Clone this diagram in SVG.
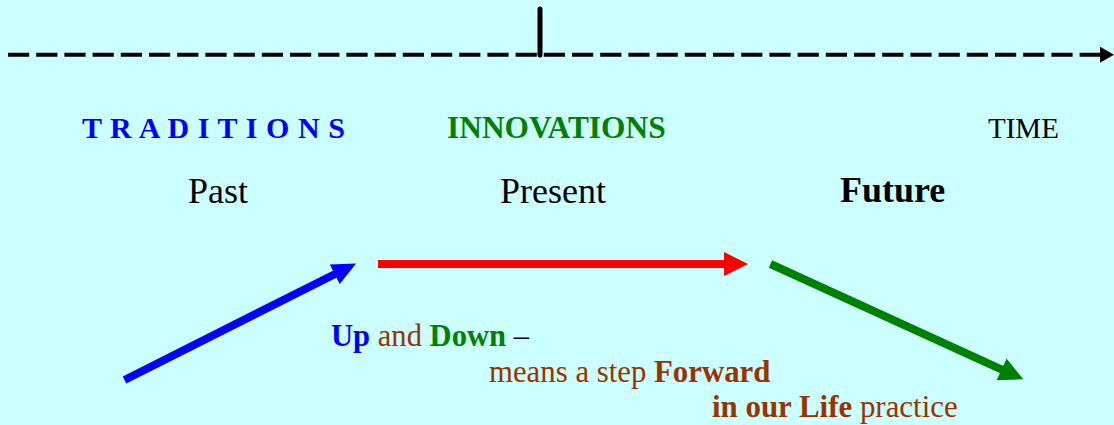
<svg xmlns="http://www.w3.org/2000/svg" width="1114" height="425" viewBox="0 0 1114 425">
  <style>
    .serif { font-family: "Liberation Serif", "Times New Roman", serif; }
    .b { font-weight: bold; }
    .blue { fill: #0000FF; }
    .green { fill: #008000; }
    .brown { fill: #993300; }
    .black { fill: #000000; }
  </style>
  <defs>
    <marker id="hBlack" viewBox="0 0 14 16" refX="1" refY="8" markerWidth="14" markerHeight="16" markerUnits="userSpaceOnUse" orient="auto">
      <path d="M0,0 L14,8 L0,16 z" fill="#000000"/>
    </marker>
    <marker id="hBlue" viewBox="0 0 24 22" refX="1" refY="11" markerWidth="24" markerHeight="22" markerUnits="userSpaceOnUse" orient="auto">
      <path d="M0,0 L24,11 L0,22 z" fill="#0000FF"/>
    </marker>
    <marker id="hRed" viewBox="0 0 24 24" refX="1" refY="12" markerWidth="24" markerHeight="24" markerUnits="userSpaceOnUse" orient="auto">
      <path d="M0,0 L24,12 L0,24 z" fill="#FF0000"/>
    </marker>
    <marker id="hGreen" viewBox="0 0 24 24" refX="1" refY="12" markerWidth="24" markerHeight="24" markerUnits="userSpaceOnUse" orient="auto">
      <path d="M0,0 L24,12 L0,24 z" fill="#008000"/>
    </marker>
  </defs>

  <rect x="0" y="0" width="1114" height="425" fill="#CCFFFF"/>

  <g id="connectors">
    <line id="timeline" x1="8" y1="54.7" x2="1101" y2="54.7" stroke="#000000" stroke-width="4" stroke-dasharray="21.2 7" marker-end="url(#hBlack)"/>
    <line id="now-tick" x1="540" y1="9" x2="540" y2="55" stroke="#000000" stroke-width="5" stroke-linecap="round"/>
    <line id="arrow-up" x1="124.5" y1="380" x2="335.6" y2="273.8" stroke="#0000FF" stroke-width="8" marker-end="url(#hBlue)"/>
    <line id="arrow-forward" x1="378" y1="264" x2="725" y2="264" stroke="#FF0000" stroke-width="8" marker-end="url(#hRed)"/>
    <line id="arrow-down" x1="770.5" y1="264" x2="1002.4" y2="369.8" stroke="#008000" stroke-width="8" marker-end="url(#hGreen)"/>
  </g>

  <g id="traditions">
    <text class="serif b blue" x="82" y="138" font-size="30" textLength="263" lengthAdjust="spacing">T R A D I T I O N S</text>
  </g>
  <g id="innovations">
    <text class="serif b green" x="447" y="138" font-size="31.4">INNOVATIONS</text>
  </g>
  <g id="time">
    <text class="serif black" x="988" y="138" font-size="29">TIME</text>
  </g>
  <g id="past">
    <text class="serif black" x="188" y="203" font-size="36">Past</text>
  </g>
  <g id="present">
    <text class="serif black" x="500" y="203" font-size="36">Present</text>
  </g>
  <g id="future">
    <text class="serif b black" x="840" y="202" font-size="36">Future</text>
  </g>

  <g id="caption">
    <text class="serif" x="331" y="346" font-size="30.6"><tspan class="b blue">Up</tspan><tspan class="brown"> and </tspan><tspan class="b green">Down</tspan><tspan class="black"> –</tspan></text>
    <text class="serif" x="489" y="382" font-size="30.8"><tspan class="brown">means a step </tspan><tspan class="b brown">Forward</tspan></text>
    <text class="serif" x="712" y="417" font-size="30.9"><tspan class="b brown">in our Life</tspan><tspan class="brown"> practice</tspan></text>
  </g>
</svg>
